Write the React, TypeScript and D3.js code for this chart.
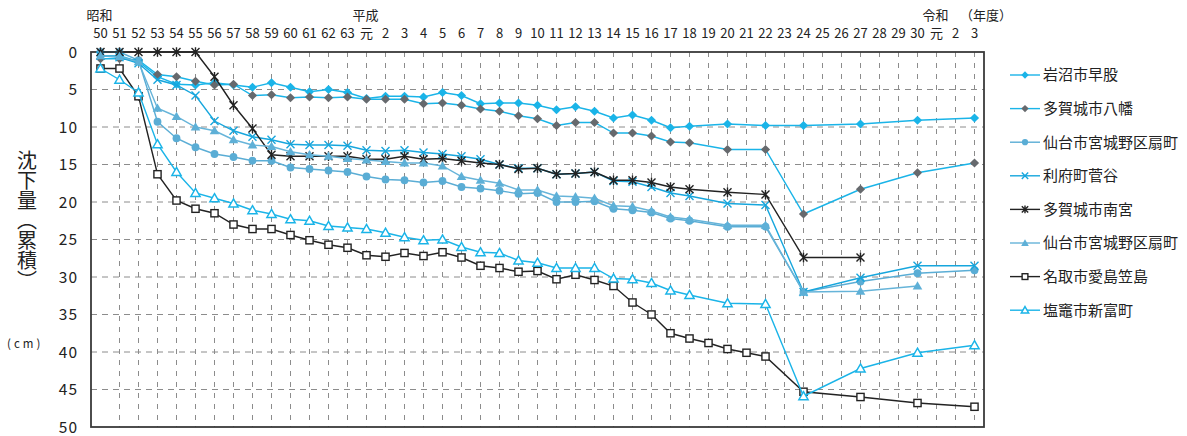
import React from "react";
import * as d3 from "d3";

const yearLabels = [
  "50","51","52","53","54","55","56","57","58","59","60","61","62","63",
  "元","2","3","4","5","6","7","8","9","10","11","12","13","14","15","16","17","18","19","20",
  "21","22","23","24","25","26","27","28","29","30",
  "元","2","3",
];

const eraLabels = [
  { label: "昭和", index: 0 },
  { label: "平成", index: 14 },
  { label: "令和", index: 44 },
];

const yTicks = [0, 5, 10, 15, 20, 25, 30, 35, 40, 45, 50];

const iwanuma = [0.5,0.5,1.3,3.3,4.3,4.4,4.1,4.4,4.7,4.1,4.7,5.3,5.0,5.4,6.2,5.9,5.9,6.0,5.4,5.8,6.9,6.8,6.8,7.1,7.7,7.3,7.9,8.8,8.4,9.1,10.1,9.9,null,9.6,null,9.8,null,9.8,null,null,9.6,null,null,9.1,null,null,8.8];
const yawata = [0.9,0.9,1.1,3.0,3.3,3.9,4.4,4.3,5.8,5.7,6.1,6.0,6.1,6.0,6.3,6.3,6.3,6.9,6.8,7.1,7.6,7.9,8.5,8.9,9.8,9.4,9.4,10.8,10.8,11.2,12.0,12.1,null,13.0,null,13.0,null,21.6,null,null,18.3,null,null,16.1,null,null,14.8];
const sendaiCircle = [0,0,1.1,9.3,11.5,12.7,13.6,14.0,14.5,14.5,15.4,15.6,15.8,16.0,16.6,17.0,17.1,17.4,17.2,18.0,18.2,18.5,18.9,18.8,20.0,20.0,19.9,20.9,21.1,21.4,22.2,22.5,null,23.3,null,23.3,null,32.0,null,null,30.6,null,null,29.5,null,null,29.1];
const rifu = [0.5,0.7,1.5,3.7,4.4,5.8,9.2,10.5,11.3,11.7,12.3,12.4,12.4,12.5,13.1,13.2,13.1,13.4,13.6,13.9,14.3,15.0,15.5,15.5,16.3,16.2,16.0,17.2,17.3,18.0,18.8,19.2,null,20.2,null,20.4,null,32.0,null,null,30.1,null,null,28.5,null,null,28.5];
const minamimiya = [0,0,0,0,0,0,3.3,7.1,10.2,13.7,13.9,13.9,13.9,13.9,14.3,14.3,13.9,14.3,14.2,14.5,14.8,15.0,15.6,15.5,16.3,16.2,16.0,17.1,17.1,17.4,18.0,18.3,null,18.7,null,19.0,null,27.4,null,null,27.4,null,null,null,null,null,null];
const sendaiTriangle = [0.5,0.6,1.3,7.5,8.6,10.0,10.5,11.7,12.4,12.6,13.3,13.7,13.9,14.2,14.4,14.6,14.8,14.8,15.2,16.6,17.1,17.5,18.4,18.4,19.2,19.3,19.5,20.5,20.6,21.2,22.0,22.3,null,23.1,null,23.1,null,32.0,null,null,31.9,null,null,31.2,null,null,null];
const natori = [2.2,2.2,5.9,16.3,19.8,20.9,21.5,23.0,23.6,23.6,24.4,25.1,25.7,26.1,27.1,27.3,26.8,27.2,26.7,27.4,28.5,28.8,29.3,29.2,30.3,29.7,30.4,31.2,33.4,35.0,37.5,38.2,38.8,39.6,40.1,40.6,null,45.3,null,null,46.0,null,null,46.8,null,null,47.3];
const shiogama = [2.2,3.7,5.4,12.3,16.0,18.8,19.5,20.2,21.1,21.6,22.3,22.5,23.2,23.4,23.6,24.1,24.7,25.1,25.0,26.0,26.7,26.8,27.8,28.1,28.8,28.8,28.8,30.2,30.3,30.8,31.8,32.4,null,33.5,null,33.6,null,45.9,null,null,42.2,null,null,40.1,null,null,39.1];

const seriesNames = [
  "岩沼市早股","多賀城市八幡","仙台市宮城野区扇町","利府町菅谷",
  "多賀城市南宮","仙台市宮城野区扇町","名取市愛島笠島","塩竈市新富町",
];

type Marker = "diamond" | "circle" | "cross" | "asterisk" | "triangleFill" | "square" | "triangleOpen";

const series: { name: string; values: (number | null)[]; line: string; marker: Marker; mColor: string }[] = [
  { name: seriesNames[0], values: iwanuma, line: "#1ab4e8", marker: "diamond", mColor: "#1ab4e8" },
  { name: seriesNames[1], values: yawata, line: "#1ab4e8", marker: "diamond", mColor: "#66696d" },
  { name: seriesNames[2], values: sendaiCircle, line: "#5aadd5", marker: "circle", mColor: "#5aadd5" },
  { name: seriesNames[3], values: rifu, line: "#16a6dd", marker: "cross", mColor: "#16a6dd" },
  { name: seriesNames[4], values: minamimiya, line: "#222222", marker: "asterisk", mColor: "#222222" },
  { name: seriesNames[5], values: sendaiTriangle, line: "#66b4d9", marker: "triangleFill", mColor: "#5eb0d7" },
  { name: seriesNames[6], values: natori, line: "#222222", marker: "square", mColor: "#222222" },
  { name: seriesNames[7], values: shiogama, line: "#1ab4e8", marker: "triangleOpen", mColor: "#1ab4e8" },
];

const W = 1187;
const H = 436;
const plot = { left: 91, right: 984, top: 52, bottom: 427 };
const FONT = "'Noto Sans CJK JP', 'Noto Sans', sans-serif";

function MarkerShape({ type, x, y, color, s = 1 }: { type: Marker; x: number; y: number; color: string; s?: number }) {
  const r = 4.6 * s;
  switch (type) {
    case "diamond":
      return <path d={`M${x},${y - r} L${x + r},${y} L${x},${y + r} L${x - r},${y}Z`} fill={color} />;
    case "circle":
      return <circle cx={x} cy={y} r={3.9 * s} fill={color} />;
    case "cross": {
      const c = 4 * s;
      return (
        <path d={`M${x - c},${y - c} L${x + c},${y + c} M${x - c},${y + c} L${x + c},${y - c}`} stroke={color} strokeWidth={1.4} fill="none" />
      );
    }
    case "asterisk": {
      const c = 4 * s;
      return (
        <path
          d={`M${x - c},${y - c} L${x + c},${y + c} M${x - c},${y + c} L${x + c},${y - c} M${x},${y - c * 1.2} L${x},${y + c * 1.2}`}
          stroke={color}
          strokeWidth={1.4}
          fill="none"
        />
      );
    }
    case "triangleFill": {
      const t = 4.8 * s;
      return <path d={`M${x},${y - t} L${x + t},${y + t * 0.75} L${x - t},${y + t * 0.75}Z`} fill={color} />;
    }
    case "triangleOpen": {
      const t = 4.6 * s;
      return (
        <path d={`M${x},${y - t} L${x + t},${y + t * 0.75} L${x - t},${y + t * 0.75}Z`} fill="#fff" stroke={color} strokeWidth={1.5} />
      );
    }
    case "square": {
      const q = 3.6 * s;
      return <rect x={x - q} y={y - q} width={2 * q} height={2 * q} fill="#fff" stroke={color} strokeWidth={1.4} />;
    }
  }
  return null;
}

export default function App() {
  const x = d3.scaleLinear().domain([-0.5, yearLabels.length - 0.5]).range([plot.left, plot.right]);
  const y = d3.scaleLinear().domain([0, 50]).range([plot.top, plot.bottom]);

  const line = d3
    .line<{ i: number; v: number }>()
    .x((d) => x(d.i))
    .y((d) => y(d.v));

  const legendY0 = 75;
  const legendStep = 33.6;

  return (
    <svg width={W} height={H} style={{ position: "absolute", left: 0, top: 0, background: "#fff" }} fontFamily={FONT}>
      <rect x={0} y={0} width={W} height={H} fill="#fff" />
      {/* horizontal gridlines */}
      {yTicks.slice(1, -1).map((t) => (
        <line key={"h" + t} x1={plot.left} x2={plot.right} y1={y(t)} y2={y(t)} stroke="#8c8c8c" strokeWidth={1} strokeDasharray="6,5" />
      ))}
      {/* vertical gridlines */}
      {yearLabels.map((_, i) =>
        i === 0 ? null : (
          <line key={"v" + i} x1={x(i)} x2={x(i)} y1={plot.top} y2={plot.bottom} stroke="#8c8c8c" strokeWidth={1} strokeDasharray="5,6" />
        )
      )}
      {/* frame */}
      <rect x={plot.left} y={plot.top} width={plot.right - plot.left} height={plot.bottom - plot.top} fill="none" stroke="#3a3a3a" strokeWidth={1.8} />

      {/* y tick labels */}
      {yTicks.map((t) => (
        <text key={"yt" + t} x={78} y={y(t)} dy="0.36em" textAnchor="end" fontSize={15.5} letterSpacing={1} fill="#222">
          {t}
        </text>
      ))}

      {/* x labels */}
      {yearLabels.map((l, i) => (
        <text key={"xl" + i} x={x(i)} y={38} textAnchor="middle" fontSize={13} fill="#222">
          {l}
        </text>
      ))}
      {eraLabels.map((e) => (
        <text key={e.label} x={x(e.index) - 1} y={20} textAnchor="middle" fontSize={13} fill="#222">
          {e.label}
        </text>
      ))}
      <text x={960} y={20} fontSize={13} fill="#222">（年度）</text>

      {/* y title */}
      <text x={27} y={150} fontSize={20} fill="#222" style={{ writingMode: "vertical-rl" as any }}>
        沈下量（累積）
      </text>
      <text x={7} y={348} fontSize={11.5} letterSpacing={3} fill="#222">(cm)</text>

      {/* series */}
      {series.map((s, si) => {
        const pts = s.values
          .map((v, i) => ({ i, v }))
          .filter((d) => d.v !== null) as { i: number; v: number }[];
        return (
          <g key={"s" + si}>
            <path d={line(pts) || ""} fill="none" stroke={s.line} strokeWidth={1.4} />
            {pts.map((d) => (
              <MarkerShape key={d.i} type={s.marker} x={x(d.i)} y={y(d.v)} color={s.mColor} />
            ))}
          </g>
        );
      })}

      {/* legend */}
      {series.map((s, si) => {
        const ly = legendY0 + si * legendStep;
        return (
          <g key={"lg" + si}>
            <line x1={1010} x2={1040} y1={ly} y2={ly} stroke={s.line} strokeWidth={1.4} />
            <MarkerShape type={s.marker} x={1025} y={ly} color={s.mColor} s={0.8} />
            <text x={1043} y={ly} dy="0.36em" fontSize={15} fill="#222">
              {s.name}
            </text>
          </g>
        );
      })}
    </svg>
  );
}
